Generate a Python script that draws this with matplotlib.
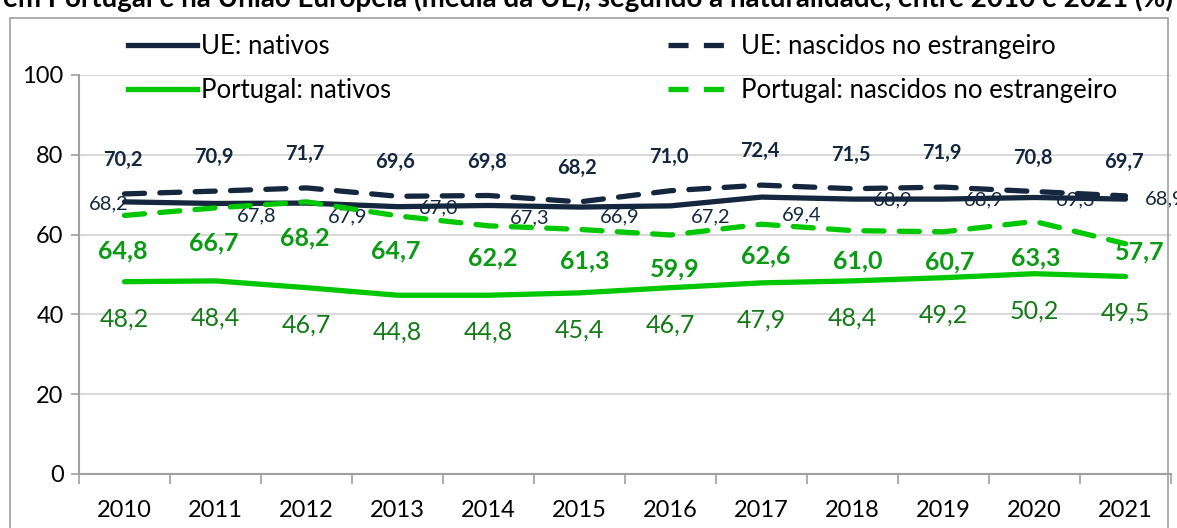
import matplotlib
matplotlib.use("Agg")
import matplotlib.pyplot as plt
from matplotlib.lines import Line2D
from matplotlib.patches import Rectangle

plt.rcParams['font.family'] = ['Lato', 'DejaVu Sans']

# taxas de emprego (%) por ano
anos = [2010, 2011, 2012, 2013, 2014, 2015, 2016, 2017, 2018, 2019, 2020, 2021]
ue_nativos = [68.2, 67.8, 67.9, 67.0, 67.3, 66.9, 67.2, 69.4, 68.9, 68.9, 69.3, 68.9]
ue_estrangeiro = [70.2, 70.9, 71.7, 69.6, 69.8, 68.2, 71.0, 72.4, 71.5, 71.9, 70.8, 69.7]
pt_nativos = [48.2, 48.4, 46.7, 44.8, 44.8, 45.4, 46.7, 47.9, 48.4, 49.2, 50.2, 49.5]
pt_estrangeiro = [64.8, 66.7, 68.2, 64.7, 62.2, 61.3, 59.9, 62.6, 61.0, 60.7, 63.3, 57.7]

# deslocamento dos rotulos (pixels)
desl_ue_nat = [(-16, -2), (41, -12), (41, -14), (41, -1), (41, -12), (40, -10),
               (40, -11), (40, -18), (40, -1), (40, -1), (41, -2), (39, 0)]
desl_pt_estr = [(-2, -35), (-2, -35), (-2, -36), (-2, -35), (4, -32), (5, -32),
                (4, -34), (4, -32), (5, -30), (6, -30), (1, -36), (14, -8)]

navy = '#14273f'
verde = '#00c800'
verde_esc = '#0a9a14'
verde_reg = '#137a17'

fig = plt.figure(figsize=(11.77, 5.28), dpi=100)
ax = fig.add_axes([79 / 1177, 54 / 528, 1092 / 1177, 399 / 528])

x = list(range(len(anos)))

def fmt(v):
    return f"{v:.1f}".replace('.', ',')

dash = (0, (3.8, 2.9))
ax.plot(x, ue_nativos, color=navy, lw=3.8, solid_capstyle='round', zorder=3)
ax.plot(x, ue_estrangeiro, color=navy, lw=3.8, ls=dash, dash_capstyle='round', zorder=3)
ax.plot(x, pt_nativos, color=verde, lw=3.8, solid_capstyle='round', zorder=3)
ax.plot(x, pt_estrangeiro, color=verde, lw=3.8, ls=dash, dash_capstyle='round', zorder=4)

for i in x:
    ax.annotate(fmt(ue_nativos[i]), (i, ue_nativos[i]), xytext=desl_ue_nat[i],
                textcoords='offset pixels', ha='center', va='center',
                fontsize=14.5, color=navy, zorder=2, annotation_clip=False)
    ax.annotate(fmt(ue_estrangeiro[i]), (i, ue_estrangeiro[i]), xytext=(-2, 34),
                textcoords='offset pixels', ha='center', va='center',
                fontsize=14.5, fontweight='bold', color=navy, zorder=2)
    ax.annotate(fmt(pt_nativos[i]), (i, pt_nativos[i]), xytext=(0, -37),
                textcoords='offset pixels', ha='center', va='center',
                fontsize=18, color=verde_reg, zorder=2)
    ax.annotate(fmt(pt_estrangeiro[i]), (i, pt_estrangeiro[i]), xytext=desl_pt_estr[i],
                textcoords='offset pixels', ha='center', va='center',
                fontsize=18, fontweight='bold', color=verde_esc, zorder=2)

ax.set_xlim(-0.5, len(anos) - 0.5)
ax.set_ylim(0, 100)
ax.set_yticks([0, 20, 40, 60, 80, 100])
ax.set_xticks(x)
ax.set_xticklabels([str(a) for a in anos])
ax.set_xticks([i - 0.5 for i in range(len(anos) + 1)], minor=True)
ax.tick_params(axis='x', which='major', length=0, pad=19, labelsize=17)
ax.tick_params(axis='x', which='minor', length=7, width=1.2, color='#a0a0a0')
ax.tick_params(axis='y', length=6, width=1.2, color='#a0a0a0', pad=5, labelsize=17)
ax.grid(axis='y', color='#d9d9d9', lw=1.5, zorder=0)
ax.set_axisbelow(True)
for s in ['top', 'right']:
    ax.spines[s].set_visible(False)
for s in ['left', 'bottom']:
    ax.spines[s].set_color('#a0a0a0')
    ax.spines[s].set_linewidth(1.5)

# legenda em duas colunas
h_nat = [Line2D([], [], color=navy, lw=3.8), Line2D([], [], color=verde, lw=3.8)]
h_estr = [Line2D([], [], color=navy, lw=3.8, ls=dash),
          Line2D([], [], color=verde, lw=3.8, ls=dash)]
kw = dict(loc='upper left', bbox_transform=fig.transFigure, frameon=False,
          fontsize=18.5, handlelength=2.7, handletextpad=0.15, labelspacing=0.75,
          borderpad=0, borderaxespad=0)
leg1 = ax.legend(h_nat, ['UE: nativos', 'Portugal: nativos'],
                 bbox_to_anchor=(128 / 1177, 1 - 34 / 528), **kw)
ax.add_artist(leg1)
ax.legend(h_estr, ['UE: nascidos no estrangeiro', 'Portugal: nascidos no estrangeiro'],
          bbox_to_anchor=(668 / 1177, 1 - 34 / 528), **kw)

# moldura do grafico
fig.patches.append(Rectangle((10 / 1177, -0.1), 1158 / 1177, 1.1 - 18 / 528,
                             transform=fig.transFigure, fill=False,
                             edgecolor='#a0a0a0', lw=1.2))

fig.text(3 / 1177, 1 - 7 / 528,
         'em Portugal e na União Europeia (média da UE), segundo a naturalidade, entre 2010 e 2021 (%)',
         fontsize=20, fontweight='bold', ha='left', va='baseline')

fig.savefig('out.png', dpi=100)
